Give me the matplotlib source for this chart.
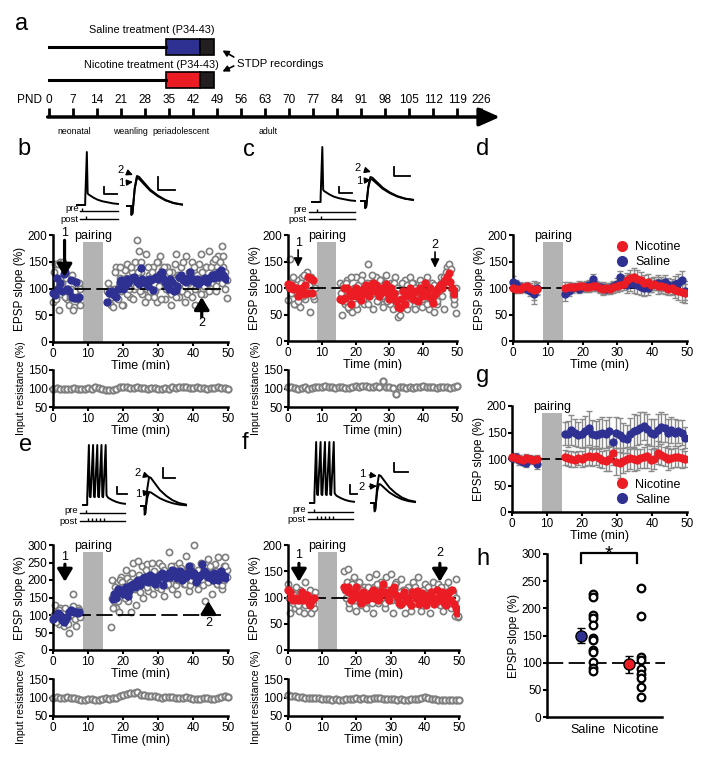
import numpy as np
import matplotlib
matplotlib.use('Agg')
from matplotlib import pyplot as plt
from matplotlib.patches import Rectangle

plt.rcParams['font.family'] = ['Liberation Sans', 'DejaVu Sans']

# %%
# ---- data ----
pnd_labels = ['0', '7', '14', '21', '28', '35', '42', '49', '56', '63', '70',
              '77', '84', '91', '98', '105', '112', '119', '226']
pnd_pos = [0, 7, 14, 21, 28, 35, 42, 49, 56, 63, 70, 77, 84, 91, 98, 105, 112, 119, 126]
stages = ['neonatal', 'weanling', 'periadolescent', 'adult']
stage_pos = [7.3, 23.8, 38.4, 63.9]
treat_start, treat_end, rec_end = 34, 44, 48

# panel b (saline, single cell)
b_pre = [92, 88, 120, 100, 110, 95, 128, 130, 100, 95, 115, 85, 83, 112, 82, 85]
b_post = [74, 92, 95, 90, 88, 85, 100, 112, 115, 100, 105, 118, 110, 115, 120, 122, 118, 112,
          108, 138, 118, 112, 110, 105, 118, 115, 98, 120, 122, 118, 128, 130, 120, 112, 105,
          100, 118, 112, 95, 98, 105, 122, 125, 115, 118, 112, 120, 130, 115, 118, 112, 118,
          108, 112, 115, 118, 120, 112, 118, 122, 125, 120, 128, 122, 130, 135, 125, 120, 118]
b_gpre1 = [75, 145, 100, 60, 150, 110, 140, 95, 80, 70, 100, 115, 65, 90, 105, 70]
b_gpre2 = [130, 80, 145, 105, 90, 150, 85, 120, 100, 85, 125, 60, 95, 80, 110, 100]
b_gpost1 = [95, 75, 70, 65, 100, 140, 80, 120, 95, 70, 135, 145, 110, 85, 130, 100, 150, 190,
            170, 130, 90, 110, 165, 85, 125, 100, 140, 95, 75, 150, 160, 135, 105, 80, 140, 95,
            70, 130, 115, 165, 100, 85, 140, 120, 75, 160, 110, 95, 150, 130, 70, 100, 145, 165,
            120, 90, 140, 110, 170, 100, 150, 130, 95, 160, 120, 180, 140, 100, 82]
b_gpost2 = [110, 100, 85, 95, 130, 95, 105, 140, 70, 110, 120, 90, 100, 140, 80, 120, 105, 130,
            95, 150, 110, 75, 100, 140, 95, 130, 85, 120, 150, 105, 80, 120, 140, 100, 110, 130,
            90, 100, 145, 85, 125, 110, 95, 150, 105, 90, 130, 115, 85, 140, 100, 125, 110, 90,
            130, 105, 140, 120, 95, 140, 110, 155, 105, 125, 150, 110, 160, 130, 115]
b_ir = [100, 101, 99, 100, 98, 100, 101, 99, 100, 98, 101, 100, 104, 102, 98, 97, 96, 97, 100,
        103, 104, 103, 102, 101, 103, 102, 101, 100, 102, 101, 100, 99, 101, 100, 103, 102, 104,
        105, 103, 102, 101, 103, 102, 101, 100, 102, 101, 103, 102, 101, 100]

# panel c (nicotine, single cell)
c_pre = [108, 100, 105, 98, 100, 100, 85, 95, 100, 88, 105, 90, 120, 118, 90, 115]
c_post = [80, 78, 100, 82, 100, 95, 70, 85, 90, 100, 85, 95, 78, 88, 100, 105, 95, 85, 100,
          110, 95, 105, 100, 85, 90, 100, 95, 108, 90, 80, 100, 85, 90, 75, 65, 62, 80, 95, 70,
          85, 92, 100, 88, 80, 92, 95, 75, 100, 85, 95, 110, 90, 85, 100, 80, 72, 88, 95, 100,
          105, 100, 110, 115, 120, 128, 112, 100, 88, 95]
c_gpre1 = [78, 155, 110, 90, 70, 100, 115, 65, 120, 95, 80, 130, 100, 55, 110, 80]
c_gpre2 = [100, 90, 120, 70, 105, 75, 95, 110, 85, 125, 100, 90, 105, 120, 85, 100]
c_gpost1 = [110, 50, 95, 70, 115, 60, 85, 55, 100, 120, 60, 75, 105, 125, 70, 95, 145, 85, 110,
            60, 90, 120, 75, 100, 115, 65, 80, 125, 95, 70, 110, 60, 120, 85, 45, 50, 100, 70,
            115, 60, 95, 120, 80, 110, 60, 75, 100, 115, 65, 90, 105, 120, 60, 80, 110, 55, 95,
            70, 100, 120, 85, 60, 110, 140, 145, 100, 85, 70, 52]
c_gpost2 = [90, 105, 75, 110, 65, 95, 120, 80, 100, 70, 105, 90, 115, 80, 95, 110, 70, 100, 125,
            90, 105, 75, 95, 115, 85, 100, 110, 75, 105, 95, 80, 110, 90, 100, 75, 85, 110, 95,
            80, 105, 70, 95, 110, 85, 100, 75, 90, 105, 80, 95, 110, 70, 90, 100, 85, 105, 90, 75,
            95, 110, 100, 120, 130, 115, 105, 135, 90, 80, 100]
c_ir = [105, 103, 102, 100, 101, 103, 100, 102, 104, 103, 105, 106, 104, 103, 102, 104, 103, 102,
        101, 104, 106, 105, 107, 106, 105, 104, 106, 103, 120, 104, 103, 102, 85, 103, 104, 102,
        103, 101, 104, 105, 106, 104, 105, 103, 102, 104, 103, 104, 102, 105, 107]

# panel e (saline, burst pairing)
e_pre = [90, 95, 100, 105, 100, 85, 80, 85, 95, 110, 115, 112, 108, 110, 105, 108]
e_post = [145, 160, 150, 175, 165, 170, 160, 175, 180, 155, 170, 185, 190, 180, 195, 200, 185,
          195, 205, 210, 200, 195, 215, 205, 210, 190, 200, 210, 215, 220, 185, 205, 215, 220,
          210, 230, 225, 215, 205, 210, 225, 200, 215, 210, 220, 240, 225, 215, 220, 195, 200,
          210, 215, 245, 225, 220, 210, 215, 205, 200, 220, 210, 200, 215, 225, 215, 205, 210]
e_gpre1 = [85, 130, 110, 75, 120, 95, 70, 100, 115, 50, 110, 160, 95, 70, 120, 100]
e_gpre2 = [100, 80, 95, 115, 90, 105, 120, 85, 75, 110, 100, 125, 90, 105, 115, 95]
e_gpost1 = [65, 200, 140, 120, 195, 110, 210, 170, 160, 230, 140, 190, 110, 250, 180, 130, 255,
            200, 240, 150, 190, 245, 170, 210, 250, 160, 220, 180, 250, 200, 240, 155, 210, 185,
            280, 220, 175, 240, 200, 160, 250, 210, 230, 190, 270, 220, 170, 240, 205, 300, 215,
            175, 230, 250, 190, 140, 215, 260, 200, 160, 230, 245, 190, 265, 215, 175, 240, 265, 230]
e_gpost2 = [150, 120, 180, 170, 140, 200, 195, 180, 150, 205, 175, 195, 220, 185, 175, 200, 215,
            165, 190, 205, 230, 180, 200, 215, 195, 225, 210, 190, 215, 175, 200, 230, 205, 190,
            215, 240, 205, 220, 185, 200, 215, 235, 200, 190, 215, 225, 185, 200, 220, 210, 195,
            230, 215, 200, 185, 225, 210, 195, 240, 215, 200, 225, 190, 210, 220, 185, 200, 240, 210]
e_ir = [100, 101, 100, 99, 101, 100, 98, 96, 92, 94, 96, 95, 93, 94, 96, 98, 97, 99, 100, 103,
        106, 109, 112, 113, 114, 108, 106, 105, 104, 103, 102, 100, 101, 102, 101, 100, 99, 100,
        102, 98, 96, 95, 97, 100, 98, 96, 97, 99, 102, 104, 102]

# panel f (nicotine, burst pairing)
f_pre = [115, 110, 100, 95, 100, 98, 95, 100, 110, 95, 100, 105, 90, 85, 95, 100]
f_post = [120, 115, 120, 110, 95, 100, 110, 120, 105, 100, 90, 110, 100, 95, 105, 100, 108, 115,
          100, 110, 95, 100, 112, 125, 110, 108, 100, 95, 115, 110, 120, 105, 100, 90, 88, 105,
          110, 95, 100, 92, 85, 110, 105, 100, 112, 88, 95, 108, 100, 85, 95, 105, 110, 95, 88,
          100, 115, 95, 105, 110, 90, 85, 100, 110, 95, 115, 88, 80, 70]
f_gpre1 = [125, 70, 110, 95, 80, 100, 75, 115, 90, 70, 130, 105, 85, 70, 95, 80]
f_gpre2 = [100, 115, 90, 105, 120, 85, 95, 110, 100, 85, 105, 95, 115, 100, 90, 110]
f_gpost1 = [150, 100, 155, 80, 130, 95, 140, 75, 110, 130, 85, 100, 120, 80, 95, 140, 110, 70,
            120, 145, 90, 100, 130, 115, 80, 140, 105, 95, 145, 70, 110, 130, 100, 85, 135, 115,
            70, 100, 120, 95, 75, 130, 105, 90, 140, 110, 75, 100, 125, 90, 115, 70, 105, 130, 95,
            110, 125, 85, 100, 75, 120, 95, 130, 105, 80, 110, 65, 135, 62]
f_gpost2 = [115, 130, 90, 110, 125, 100, 95, 120, 105, 90, 115, 100, 110, 95, 120, 105, 90, 115,
            100, 125, 95, 110, 100, 120, 90, 105, 115, 100, 95, 110, 125, 95, 105, 110, 90, 100,
            115, 105, 95, 110, 100, 90, 120, 105, 95, 110, 100, 115, 90, 105, 120, 100, 95, 110,
            105, 90, 115, 100, 120, 95, 105, 110, 100, 90, 115, 105, 95, 100, 65]
f_ir = [106, 104, 103, 102, 101, 100, 100, 99, 98, 99, 97, 96, 95, 94, 95, 93, 94, 95, 96, 97,
        98, 97, 98, 96, 97, 99, 100, 99, 97, 96, 95, 96, 94, 95, 93, 94, 95, 96, 97, 99, 101, 98,
        96, 95, 94, 93, 94, 93, 92, 93, 92]

# panel d (group means, single-spike pairing)
d_sal_pre = [112, 108, 102, 100, 98, 95, 88, 100]
d_sal_post = [88, 95, 100, 102, 99, 101, 104, 106, 117, 104, 102, 100, 98, 100, 104, 108, 120,
              112, 105, 110, 108, 105, 102, 100, 100, 105, 108, 110, 108, 112, 106, 103, 108,
              110, 115, 95]
d_nic_pre = [100, 98, 99, 102, 104, 100, 96, 98]
d_nic_post = [100, 102, 101, 102, 104, 103, 101, 102, 104, 103, 100, 98, 100, 99, 101, 103, 106,
              108, 115, 118, 120, 117, 115, 110, 112, 106, 108, 103, 104, 101, 99, 100, 96, 94,
              92, 90]
d_err_pre = [10, 8, 9, 7, 8, 10, 18, 12]
d_err_post = [12, 10, 9, 8, 9, 8, 9, 10, 10, 9, 10, 11, 9, 10, 10, 11, 12, 12, 14, 16, 18, 17,
              16, 15, 14, 13, 12, 14, 13, 12, 13, 14, 15, 17, 18, 18]

# panel g (group means, burst pairing)
g_sal_pre = [102, 104, 98, 95, 92, 100, 99, 90]
g_sal_post = [148, 147, 155, 150, 146, 148, 152, 158, 147, 146, 148, 150, 147, 152, 132, 150,
              145, 140, 138, 148, 152, 155, 158, 162, 156, 150, 148, 154, 160, 158, 150, 155,
              150, 152, 150, 140]
g_sal_err_pre = [8, 7, 9, 6, 8, 7, 6, 9]
g_sal_err_post = [22, 25, 28, 26, 24, 28, 30, 32, 27, 25, 28, 30, 26, 28, 20, 30, 32, 28, 26,
                  30, 32, 28, 30, 26, 28, 25, 27, 30, 28, 26, 25, 24, 26, 22, 24, 20]
g_nic_pre = [103, 101, 100, 98, 102, 100, 98, 100]
g_nic_post = [103, 101, 100, 99, 102, 100, 104, 105, 103, 106, 102, 99, 97, 100, 112, 95, 93, 97,
              100, 102, 100, 99, 101, 103, 105, 98, 100, 112, 108, 104, 100, 101, 103, 104, 101, 100]
g_nic_err_pre = [8, 6, 7, 6, 8, 6, 7, 8]
g_nic_err_post = [14, 15, 16, 15, 14, 16, 18, 17, 16, 18, 17, 16, 20, 22, 24, 26, 28, 24, 22, 20,
                  22, 20, 18, 20, 22, 20, 18, 22, 20, 18, 20, 18, 18, 20, 18, 16]

# panel h (summary)
h_groups = ['Saline', 'Nicotine']
h_sal_cells = [227, 221, 187, 183, 169, 146, 141, 124, 120, 101, 91, 85]
h_nic_cells = [238, 185, 110, 105, 88, 80, 72, 56, 37]
h_means = [150, 97]
h_sems = [14, 16]

BLUE = '#2e3192'
RED = '#ec1c24'
GREY = '#7f7f7f'

# trace shapes for the example recordings (normalised)
spike_t = [0, 0.2, 0.2, 0.24, 0.26, 0.28, 0.32, 0.4, 0.5, 0.62, 0.75, 0.88, 1.0]
spike_v = [0, 0, 0.08, 1.0, 0.22, 0.2, 0.18, 0.14, 0.1, 0.07, 0.05, 0.03, 0.02]
burst_t = [0, 0.1, 0.1, 0.14, 0.16, 0.18, 0.24, 0.26, 0.28, 0.34, 0.36, 0.38, 0.44, 0.46, 0.48,
           0.54, 0.56, 0.6, 0.7, 0.8, 0.9, 1.0]
burst_v = [0, 0, 0.12, 1.0, 0.14, 0.13, 1.0, 0.14, 0.13, 1.0, 0.14, 0.13, 1.0, 0.14, 0.13,
           1.0, 0.16, 0.12, 0.08, 0.05, 0.03, 0.02]
epsp_t = [0, 0.08, 0.08, 0.1, 0.14, 0.18, 0.22, 0.3, 0.42, 0.56, 0.7, 0.85, 1.0]
epsp_v = [0, 0, -0.3, -0.25, 0.6, 1.0, 0.97, 0.8, 0.55, 0.35, 0.2, 0.1, 0.05]

# %%
W, H = 705, 758
fig = plt.figure(figsize=(W / 100, H / 100), dpi=100)


def px_axes(x0, y0, x1, y1):
    return fig.add_axes([x0 / W, 1 - y1 / H, (x1 - x0) / W, (y1 - y0) / H])


def ftext(x, y, s, **kw):
    fig.text(x / W, 1 - y / H, s, **kw)


def style(ax):
    for s in ['top', 'right']:
        ax.spines[s].set_visible(False)
    for s in ['left', 'bottom']:
        ax.spines[s].set_linewidth(1.8)
    ax.tick_params(width=1.5, length=3, labelsize=8.5, pad=1)


def time_axis(ax, ymax, yticks):
    ax.set_xlim(0, 50)
    ax.set_ylim(0, ymax)
    ax.set_xticks([0, 10, 20, 30, 40, 50])
    ax.set_yticks(yticks)
    ax.set_xlabel('Time (min)', fontsize=9, labelpad=0)
    ax.set_ylabel('EPSP slope (%)', fontsize=8.5, labelpad=1)
    ax.axvspan(8.7, 14.3, ymax=0.93, color='#b3b3b3', lw=0, zorder=1)
    ax.text(11.5, ymax * 0.935, 'pairing', ha='center', va='bottom', fontsize=9)
    style(ax)


def epsp_panel(ax, pre, post, gpre, gpost, color, ymax, yticks, post_span, gpost_span):
    time_axis(ax, ymax, yticks)
    for k, (gp, gq) in enumerate(zip(gpre, gpost)):
        off = 0.25 * k
        ax.plot(np.linspace(0.1 + off, 7.6 + off, len(gp)), gp, 'o', mfc='white', mec=GREY,
                ms=4.5, mew=1.2, zorder=2, clip_on=False)
        ax.plot(np.linspace(gpost_span[0] + off, gpost_span[1], len(gq)), gq, 'o', mfc='white',
                mec=GREY, ms=4.5, mew=1.2, zorder=2, clip_on=False)
    ax.plot([0, 49], [100, 100], color='k', lw=1.3, dashes=(9, 3), zorder=3)
    ax.plot(np.linspace(0, 7.5, len(pre)), pre, 'o', color=color, ms=5, zorder=4, clip_on=False)
    ax.plot(np.linspace(post_span[0], post_span[1], len(post)), post, 'o', color=color, ms=5,
            zorder=4)


def ir_panel(ax, vals):
    ax.plot(np.linspace(0, 50, len(vals)), vals, 'o', mfc='white', mec=GREY, ms=4.5, mew=1.5,
            clip_on=False)
    ax.set_xlim(0, 50)
    ax.set_ylim(50, 150)
    ax.set_xticks([0, 10, 20, 30, 40, 50])
    ax.set_yticks([50, 100, 150])
    ax.set_xlabel('Time (min)', fontsize=9, labelpad=0)
    ax.set_ylabel('Input resistance (%)', fontsize=7.6, labelpad=1)
    style(ax)


def big_arrow(ax, label, x, y_tail, y_tip, y_lab, small=False):
    if small:
        props = dict(arrowstyle='-|>,head_length=0.5,head_width=0.25', lw=1.2, color='k',
                     shrinkA=0, shrinkB=0)
    else:
        props = dict(arrowstyle='-|>,head_length=0.75,head_width=0.45', lw=2.3, color='k',
                     shrinkA=0, shrinkB=0, mutation_scale=10)
    ax.annotate('', xy=(x, y_tip), xytext=(x, y_tail), arrowprops=props,
                annotation_clip=False, zorder=6)
    ax.text(x, y_lab, label, ha='center', va='center', fontsize=9, zorder=6, clip_on=False)


# %%
# ---- panel a: timeline ----
k = 432 / 126
ax_a = px_axes(0, 0, W, 140)
ax_a.set_xlim(-49 / k, (W - 49) / k)
ax_a.set_ylim(140, 0)
ax_a.axis('off')
for y_line, y_box, col, lab, y_lab in [(47, 39, BLUE, 'Saline treatment (P34-43)', 30),
                                        (80, 72, RED, 'Nicotine treatment (P34-43)', 65)]:
    ax_a.plot([0, treat_start], [y_line, y_line], color='k', lw=2.2)
    ax_a.add_patch(Rectangle((treat_start, y_box), treat_end - treat_start, 16, fc=col,
                             ec='k', lw=1.2))
    ax_a.add_patch(Rectangle((treat_end, y_box), rec_end - treat_end, 16, fc='#231f20',
                             ec='k', lw=1.2))
    ax_a.text((treat_start - 4), y_lab, lab, ha='center', va='center', fontsize=7.8)
arrow_small = dict(arrowstyle='-|>,head_length=0.35,head_width=0.18', lw=1.2, color='k',
                   shrinkA=0, shrinkB=0)
ax_a.annotate('', xy=(50.6, 50.5), xytext=(53.9, 57), arrowprops=arrow_small)
ax_a.annotate('', xy=(50.6, 71.5), xytext=(53.9, 66), arrowprops=arrow_small)
ax_a.text(54.9, 64, 'STDP recordings', ha='left', va='center', fontsize=8.2)
ax_a.annotate('', xy=(131.5, 117), xytext=(-0.4, 117),
              arrowprops=dict(arrowstyle='-|>,head_length=0.9,head_width=0.4', lw=2.5,
                              color='k', shrinkA=0, shrinkB=0, mutation_scale=14))
ax_a.vlines(pnd_pos, 108, 117, color='k', lw=2)
for p, lab in zip(pnd_pos, pnd_labels):
    ax_a.text(p, 100, lab, ha='center', va='center', fontsize=8.5)
ax_a.text(-2, 100, 'PND', ha='right', va='center', fontsize=8.5)
for p, lab in zip(stage_pos, stages):
    ax_a.text(p, 131, lab, ha='center', va='center', fontsize=6.3)

# %%
# ---- panels b, c, e, f ----
ax_b = px_axes(53, 235, 228, 342)
epsp_panel(ax_b, b_pre, b_post, [b_gpre1, b_gpre2], [b_gpost1, b_gpost2], BLUE, 200,
           [0, 50, 100, 150, 200], (15.5, 49.5), (15.5, 49.7))
big_arrow(ax_b, '1', 3.3, 190, 122, 204)
big_arrow(ax_b, '2', 42.5, 47, 84, 36)
ir_panel(px_axes(53, 370, 228, 407), b_ir)

ax_c = px_axes(288, 235, 457, 341)
epsp_panel(ax_c, c_pre, c_post, [c_gpre1, c_gpre2], [c_gpost1, c_gpost2], RED, 200,
           [0, 50, 100, 150, 200], (15.5, 49.5), (15.5, 49.7))
big_arrow(ax_c, '1', 3, 172, 140, 184, small=True)
big_arrow(ax_c, '2', 43.5, 168, 138, 181, small=True)
ir_panel(px_axes(288, 370, 457, 407), c_ir)

ax_e = px_axes(53, 545, 228, 650)
epsp_panel(ax_e, e_pre, e_post, [e_gpre1, e_gpre2], [e_gpost1, e_gpost2], BLUE, 300,
           [0, 50, 100, 150, 200, 250, 300], (17, 49.5), (16.5, 49.7))
big_arrow(ax_e, '1', 3.4, 245, 195, 267)
big_arrow(ax_e, '2', 44.4, 112, 140, 76)
ir_panel(px_axes(53, 679, 228, 716), e_ir)

ax_f = px_axes(288, 545, 459, 650)
epsp_panel(ax_f, f_pre, f_post, [f_gpre1, f_gpre2], [f_gpost1, f_gpost2], RED, 200,
           [0, 50, 100, 150, 200], (16.5, 49.5), (16.5, 49.7))
big_arrow(ax_f, '1', 3.2, 165, 130, 181)
big_arrow(ax_f, '2', 44.4, 165, 130, 184)
ir_panel(px_axes(288, 679, 459, 716), f_ir)


# %%
# ---- panels d and g: group means ----
def mean_panel(ax, sal_pre, sal_post, sal_err_pre, sal_err_post,
               nic_pre, nic_post, nic_err_pre, nic_err_post, legend_loc):
    time_axis(ax, 200, [0, 50, 100, 150, 200])
    ax.plot([0, 49], [100, 100], color='k', lw=1.3, dashes=(9, 3), zorder=3)
    handles = []
    for pre, post, ep, eq, col, lab, z in [
            (nic_pre, nic_post, nic_err_pre, nic_err_post, RED, 'Nicotine', 5),
            (sal_pre, sal_post, sal_err_pre, sal_err_post, BLUE, 'Saline', 4)]:
        tp = np.linspace(0, 7, len(pre))
        tq = np.linspace(15, 49.5, len(post))
        ax.errorbar(tp, pre, yerr=ep, fmt='none', ecolor='#8a8a8a', elinewidth=1, capsize=2.5,
                    zorder=2)
        ax.errorbar(tq, post, yerr=eq, fmt='none', ecolor='#8a8a8a', elinewidth=1, capsize=2.5,
                    zorder=2)
        h, = ax.plot(tp, pre, 'o', color=col, ms=5, zorder=z, clip_on=False, label=lab)
        ax.plot(tq, post, 'o', color=col, ms=5, zorder=z)
        handles.append(h)
    ax.legend(handles=handles, loc=legend_loc, frameon=False, fontsize=9, handletextpad=0.1,
              borderaxespad=0.1, labelspacing=0.25, markerscale=1.4)


ax_d = px_axes(513, 235, 687, 341)
mean_panel(ax_d, d_sal_pre, d_sal_post, d_err_pre, d_err_post,
           d_nic_pre, d_nic_post, d_err_pre, d_err_post, 'upper right')
ax_g = px_axes(512, 406, 687, 512)
mean_panel(ax_g, g_sal_pre, g_sal_post, g_sal_err_pre, g_sal_err_post,
           g_nic_pre, g_nic_post, g_nic_err_pre, g_nic_err_post, 'lower right')

# %%
# ---- panel h ----
ax_h = px_axes(547, 554, 662, 717)
style(ax_h)
ax_h.set_xlim(-0.854, 1.54)
ax_h.set_ylim(0, 300)
ax_h.set_yticks([0, 50, 100, 150, 200, 250, 300])
ax_h.set_xticks([0, 1])
ax_h.set_xticklabels(h_groups, fontsize=9)
ax_h.tick_params(axis='x', length=0, pad=5)
ax_h.set_ylabel('EPSP slope (%)', fontsize=8.5, labelpad=1)
ax_h.plot([-0.854, 1.6], [100, 100], color='k', lw=1.3, dashes=(9, 3), clip_on=False, zorder=1)
for i, (cells, col) in enumerate([(h_sal_cells, BLUE), (h_nic_cells, RED)]):
    ax_h.plot([i + 0.1] * len(cells), cells, 'o', mfc='white', mec='k', ms=5.5, mew=1.6,
              zorder=3)
    ax_h.errorbar(i - 0.15, h_means[i], yerr=h_sems[i], fmt='o', color=col, mec='k', ms=8,
                  ecolor='k', elinewidth=1.3, capsize=3, zorder=4)
ax_h.plot([-0.146, -0.146, 1.02, 1.02], [283, 302, 302, 283], color='k', lw=1.6,
          clip_on=False)
ax_h.text(0.44, 289, '*', ha='center', va='baseline', fontsize=15, clip_on=False)

# %%
# ---- example traces (overlay in pixel units) ----
ov = fig.add_axes([0, 0, 1, 1], zorder=10)
ov.set_xlim(0, W)
ov.set_ylim(H, 0)
ov.axis('off')


def trace(x0, y0, w, h, ts, vs):
    ov.plot(x0 + w * np.array(ts), y0 - h * np.array(vs), color='k', lw=1.4)


def prepost(x0, x1, y_pre, y_post, pre_ticks, post_ticks, lab_x):
    ov.plot([x0, x1], [y_pre, y_pre], color='k', lw=1)
    ov.plot([x0, x1], [y_post, y_post], color='k', lw=1)
    ov.vlines(pre_ticks, y_pre - 3.5, y_pre, color='k', lw=1)
    ov.vlines(post_ticks, y_post - 3.5, y_post, color='k', lw=1)
    ov.text(lab_x, y_pre - 2.5, 'pre', ha='right', va='center', fontsize=6.8)
    ov.text(lab_x, y_post + 0.5, 'post', ha='right', va='center', fontsize=6.8)


def scalebar(x, y_top, y_bot, x_end):
    ov.plot([x, x, x_end], [y_top, y_bot, y_bot], color='k', lw=1.3)


def num_arrow(s, xt, yt, xh, yh):
    ov.annotate(s, xy=(xh, yh), xytext=(xt, yt), ha='center', va='center', fontsize=8,
                arrowprops=dict(arrowstyle='-|>,head_length=0.45,head_width=0.22', lw=1,
                                color='k', shrinkA=1, shrinkB=0))


# b
trace(77, 205, 41, 53, spike_t, spike_v)
prepost(80, 118, 211, 219, [82], [86], 79)
scalebar(104, 187, 194, 117)
trace(127, 206, 55, 28, epsp_t, epsp_v)
trace(127, 206, 55, 30, epsp_t, epsp_v)
num_arrow('2', 121, 170, 133, 175)
num_arrow('1', 121, 183, 133, 182)
scalebar(158, 177, 190, 175)
# c
trace(312, 202, 43, 55, spike_t, spike_v)
prepost(309, 355, 212, 219, [317], [321], 307)
scalebar(339, 187, 193, 352)
trace(361, 201, 52, 22, epsp_t, epsp_v)
trace(361, 201, 52, 24, epsp_t, epsp_v)
num_arrow('2', 358, 168, 371, 172)
num_arrow('1', 359, 181, 371, 180)
scalebar(394, 167, 176, 410)
# e
trace(83, 505, 42, 60, burst_t, burst_v)
prepost(80, 125, 513, 521, [86], [88, 92, 96, 100, 104], 78)
scalebar(117, 487, 494, 127)
trace(141, 506, 45, 29, epsp_t, epsp_v)
trace(141, 506, 45, 14, epsp_t, epsp_v)
num_arrow('2', 138, 473, 150, 477)
num_arrow('1', 138, 494, 150, 492)
scalebar(163, 468, 478, 175)
# f
trace(310, 503, 44, 61, burst_t, burst_v)
prepost(308, 353, 512, 519, [314], [317, 321, 325, 329, 333], 306)
scalebar(350, 485, 494, 357)
trace(371, 503, 44, 28, epsp_t, epsp_v)
trace(371, 503, 44, 19, epsp_t, epsp_v)
num_arrow('1', 362, 474, 377, 476)
num_arrow('2', 362, 487, 377, 486)
scalebar(394, 463, 472, 408)

# panel letters
for s, x, y in [('a', 22, 24), ('b', 24, 149), ('c', 249, 150), ('d', 483, 149),
                ('e', 26, 445), ('f', 245, 443), ('g', 483, 376), ('h', 483, 559)]:
    ftext(x, y, s, ha='center', va='center', fontsize=17)

fig.savefig('out.png', dpi=100)
